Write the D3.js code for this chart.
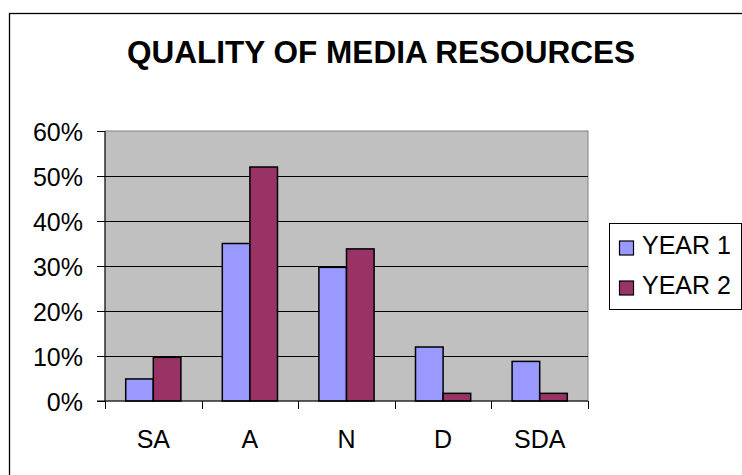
<!DOCTYPE html>
<html>
<head>
<meta charset="utf-8">
<script src="https://cdn.jsdelivr.net/npm/d3@7"></script>
<style>
  html, body { margin: 0; padding: 0; background: #fff; }
  svg { display: block; font-family: "Liberation Sans", Arial, sans-serif; }
</style>
</head>
<body>
<svg id="chart" width="742" height="475"></svg>
<script>
// Survey responses: share of answers per rating, for two years
const categories = ["SA", "A", "N", "D", "SDA"];
const seriesNames = ["YEAR 1", "YEAR 2"];
const year1 = [0.049, 0.35, 0.297, 0.12, 0.088];
const year2 = [0.097, 0.52, 0.338, 0.017, 0.017];
const yTicks = [0, 0.1, 0.2, 0.3, 0.4, 0.5, 0.6];
const colors = ["#9999FF", "#993366"];

const svg = d3.select("#chart");
const labelFont = 25;

// Chart frame
svg.append("rect")
  .attr("x", 9.5).attr("y", 13.5)
  .attr("width", 740).attr("height", 480)
  .attr("fill", "#fff").attr("stroke", "#000").attr("stroke-width", 1.3);

// Title
svg.append("text")
  .attr("x", 381).attr("y", 63)
  .attr("text-anchor", "middle")
  .attr("font-size", 31).attr("font-weight", "bold")
  .attr("textLength", 508).attr("lengthAdjust", "spacingAndGlyphs")
  .text("QUALITY OF MEDIA RESOURCES");

const plot = { left: 105, right: 588, top: 131, bottom: 401 };

const x = d3.scaleBand()
  .domain(categories)
  .range([plot.left, plot.right])
  .paddingInner(0).paddingOuter(0);

// Two bars per category with a gap of 1.5 bar widths split on both sides
const barW = x.bandwidth() / 3.5;
const barOffset = (x.bandwidth() - 2 * barW) / 2;

const y = d3.scaleLinear().domain([0, 0.6]).range([plot.bottom, plot.top]);

// Plot area background
svg.append("rect")
  .attr("x", plot.left).attr("y", plot.top)
  .attr("width", plot.right - plot.left).attr("height", plot.bottom - plot.top)
  .attr("fill", "#C0C0C0").attr("stroke", "#808080").attr("stroke-width", 1);

// Gridlines
svg.append("g")
  .selectAll("line")
  .data(yTicks.filter(d => d > 0 && d < 0.6))
  .join("line")
  .attr("x1", plot.left).attr("x2", plot.right)
  .attr("y1", d => Math.round(y(d)) + 0.5).attr("y2", d => Math.round(y(d)) + 0.5)
  .attr("stroke", "#000").attr("stroke-width", 1);

// Bars
const series = [year1, year2];
series.forEach((vals, si) => {
  svg.append("g")
    .selectAll("rect")
    .data(categories.map((c, i) => ({ c, v: vals[i] })))
    .join("rect")
    .attr("x", d => x(d.c) + barOffset + si * barW)
    .attr("y", d => y(d.v))
    .attr("width", barW)
    .attr("height", d => y(0) - y(d.v))
    .attr("fill", colors[si])
    .attr("stroke", "#000").attr("stroke-width", 1.5);
});

// Value axis
const yAxis = d3.axisLeft(y)
  .tickValues(yTicks)
  .tickFormat(d3.format(".0%"))
  .tickSize(8).tickPadding(14);
const gy = svg.append("g")
  .attr("transform", `translate(${plot.left},0)`)
  .call(yAxis);
gy.select(".domain").attr("stroke", "#000").attr("d", `M0,${plot.top}V${plot.bottom}`);
gy.selectAll(".tick line").attr("stroke", "#000");
gy.selectAll(".tick text")
  .attr("font-size", labelFont).attr("fill", "#000")
  .attr("font-family", "Liberation Sans, Arial, sans-serif")
  .attr("dy", "0.36em");

// Category axis
const xAxis = d3.axisBottom(x).tickSize(0).tickPadding(29);
const gx = svg.append("g")
  .attr("transform", `translate(0,${plot.bottom})`)
  .call(xAxis);
gx.select(".domain").attr("stroke", "#000").attr("d", `M${plot.left - 8},0H${plot.right}`);
gx.selectAll(".tick text")
  .attr("font-size", labelFont).attr("fill", "#000")
  .attr("font-family", "Liberation Sans, Arial, sans-serif");
// Ticks at category boundaries
gx.append("g")
  .selectAll("line")
  .data(categories.map(c => x(c)).concat([plot.right]))
  .join("line")
  .attr("x1", d => Math.round(d) + 0.5).attr("x2", d => Math.round(d) + 0.5)
  .attr("y1", 0).attr("y2", 8)
  .attr("stroke", "#000");

// Legend
const legend = svg.append("g");
legend.append("rect")
  .attr("x", 609.5).attr("y", 223.5)
  .attr("width", 132).attr("height", 86)
  .attr("fill", "#fff").attr("stroke", "#000").attr("stroke-width", 1);
seriesNames.forEach((name, i) => {
  const yy = 241 + i * 40;
  legend.append("rect")
    .attr("x", 619.5).attr("y", yy)
    .attr("width", 14).attr("height", 14)
    .attr("fill", colors[i]).attr("stroke", "#000").attr("stroke-width", 1.2);
  legend.append("text")
    .attr("x", 642).attr("y", yy + 13)
    .attr("font-size", labelFont)
    .text(name);
});
</script>
</body>
</html>
